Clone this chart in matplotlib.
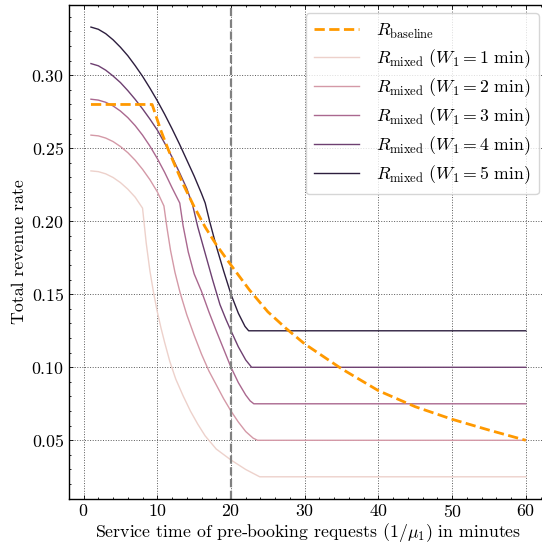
import matplotlib
matplotlib.use("Agg")
import matplotlib.pyplot as plt
from matplotlib.ticker import MultipleLocator
import seaborn as sns

# Revenue-rate curves vs. pre-booking service time (minutes)
baseline_x = [1, 9.3, 9.7, 10.5, 11.5, 12.5, 13.5, 15.0, 16.5, 18.0, 20.0, 22.5,
              25.0, 27.5, 30.0, 35.0, 40.0, 45.0, 50.0, 55.0, 60.0]
baseline_y = [0.280, 0.280, 0.274, 0.262, 0.249, 0.237, 0.2255, 0.210, 0.196, 0.184,
              0.170, 0.153, 0.138, 0.1265, 0.116, 0.099, 0.084, 0.073, 0.0644, 0.057, 0.050]

w1_x = [1, 2, 3, 4, 5, 6, 7, 8.0, 8.5, 9.0, 9.5, 10.0, 10.5, 11.0, 11.7, 12.5, 13.5,
        14.5, 15.5, 16.5, 18.0, 20.0, 22.0, 23.9, 60]
w1_y = [0.2345, 0.234, 0.2325, 0.230, 0.2265, 0.222, 0.2165, 0.209, 0.185, 0.166,
        0.151, 0.138, 0.127, 0.117, 0.104, 0.092, 0.0805, 0.070, 0.061, 0.053, 0.044,
        0.0365, 0.030, 0.025, 0.025]

w2_x = [1, 2, 3, 4, 5, 6, 7, 8, 9, 10, 10.9, 11.3, 11.8, 12.4, 13.1, 14.0, 15.0, 16.0,
        17.0, 18.0, 19.0, 20.0, 21.0, 22.0, 23.0, 23.6, 60]
w2_y = [0.259, 0.2585, 0.257, 0.2546, 0.2512, 0.247, 0.2418, 0.2356, 0.2285, 0.2202,
        0.2105, 0.196, 0.180, 0.165, 0.151, 0.136, 0.122, 0.109, 0.0975, 0.088, 0.0785,
        0.070, 0.0625, 0.056, 0.0515, 0.050, 0.050]

w3_x = [1, 2, 3, 4, 5, 6, 7, 8, 9, 10, 11, 12, 13.05, 13.5, 14.2, 15.0, 16.0, 17.0,
        18.0, 19.0, 20.0, 21.0, 22.0, 22.6, 23.1, 60]
w3_y = [0.2836, 0.283, 0.2815, 0.279, 0.2755, 0.271, 0.2655, 0.259, 0.2515, 0.243,
        0.2335, 0.223, 0.2125, 0.197, 0.179, 0.164, 0.152, 0.138, 0.125, 0.1125, 0.100,
        0.0895, 0.081, 0.077, 0.075, 0.075]

w4_x = [1, 2, 3, 4, 5, 6, 7, 8, 9, 10, 11, 12, 13, 14, 14.8, 15.5, 16.5, 17.5, 18.5,
        19.3, 20.0, 21.0, 22.0, 22.8, 60]
w4_y = [0.308, 0.3065, 0.3035, 0.2995, 0.295, 0.2895, 0.2835, 0.277, 0.270, 0.2625,
        0.2535, 0.244, 0.2335, 0.2225, 0.211, 0.196, 0.178, 0.160, 0.143, 0.133, 0.125,
        0.114, 0.105, 0.100, 0.100]

w5_x = [1, 2, 3, 4, 5, 6, 7, 8, 9, 10, 11, 12, 13, 14, 15, 16, 16.5, 17.1, 18.0, 19.0,
        20.0, 21.0, 21.9, 22.4, 60]
w5_y = [0.333, 0.3315, 0.3285, 0.3243, 0.3192, 0.3134, 0.3066, 0.2993, 0.2912, 0.2826,
        0.2733, 0.2634, 0.253, 0.242, 0.231, 0.219, 0.2125, 0.200, 0.183, 0.166, 0.150,
        0.137, 0.128, 0.125, 0.125]

window_minutes = [1, 2, 3, 4, 5]
mixed_x = [w1_x, w2_x, w3_x, w4_x, w5_x]
mixed_y = [w1_y, w2_y, w3_y, w4_y, w5_y]
reference_time = 20

plt.rcParams.update({
    "font.family": "serif",
    "font.serif": ["cmr10"],
    "mathtext.fontset": "cm",
    "axes.formatter.use_mathtext": True,
    "font.size": 12.8,
    "axes.linewidth": 1.0,
    "xtick.direction": "in",
    "ytick.direction": "in",
    "xtick.top": True,
    "ytick.right": True,
    "xtick.major.size": 3,
    "ytick.major.size": 3,
    "xtick.minor.size": 1.5,
    "ytick.minor.size": 1.5,
    "xtick.major.width": 0.6,
    "ytick.major.width": 0.6,
    "xtick.minor.width": 0.6,
    "ytick.minor.width": 0.6,
})

fig = plt.figure(figsize=(5.42, 5.48), dpi=100)
ax = fig.add_axes([0.1277, 0.0889, 0.8825, 0.9027])

colors = sns.cubehelix_palette(5)

ax.plot(baseline_x, baseline_y, ls="--", lw=2, color="#ff9900",
        label=r"$R_{\mathrm{baseline}}$", zorder=3)
for w, xs, ys, c in zip(window_minutes, mixed_x, mixed_y, colors):
    ax.plot(xs, ys, lw=1, color=c,
            label=r"$R_{\mathrm{mixed}}\ (W_1 = %d\ \mathrm{min})$" % w)

ax.axvline(reference_time, color="gray", ls="--", lw=1.6)

ax.grid(True, ls=":", color="0.35", lw=0.7)
ax.xaxis.set_minor_locator(MultipleLocator(2))
ax.yaxis.set_minor_locator(MultipleLocator(0.01))
ax.set_xticks([0, 10, 20, 30, 40, 50, 60])
ax.tick_params(axis="x", which="major", pad=2.5)
ax.tick_params(axis="y", which="major", pad=3.5)

ax.set_xlabel(r"Service time of pre-booking requests $(1/\mu_1)$ in minutes", labelpad=1)
ax.set_ylabel("Total revenue rate", labelpad=3)
ax.legend(loc="upper right", fontsize=12.8, handlelength=2.55, handletextpad=0.95,
          labelspacing=0.36, borderpad=0.45)

fig.savefig("out.png", dpi=100)
